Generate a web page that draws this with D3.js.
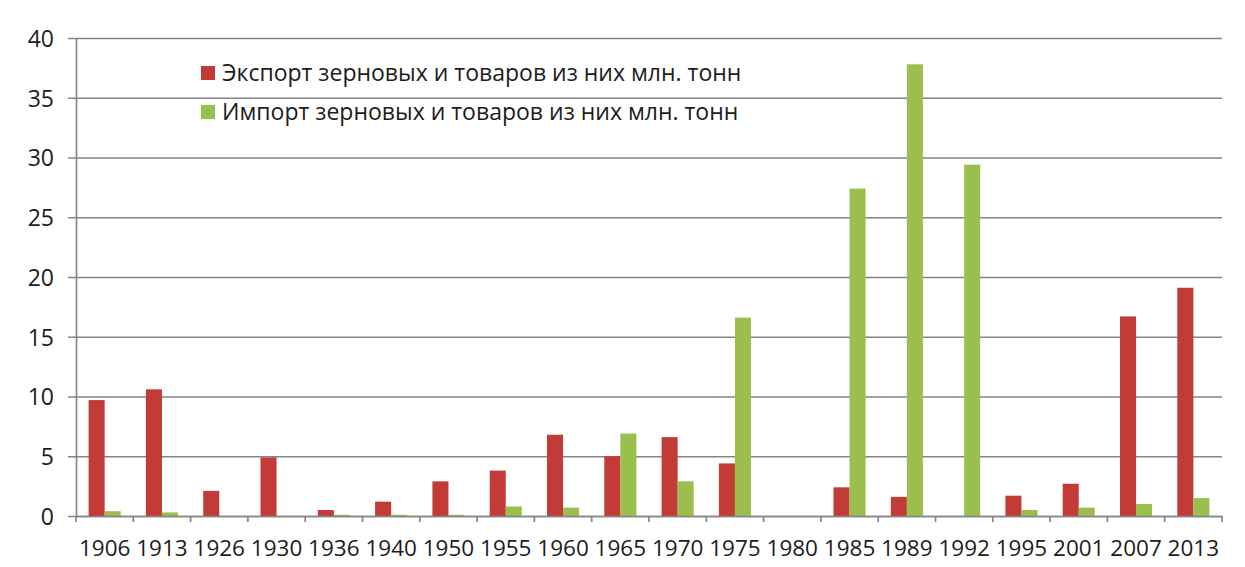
<!DOCTYPE html>
<html>
<head>
<meta charset="utf-8">
<script src="https://cdn.jsdelivr.net/npm/d3@7"></script>
<style>
  html, body { margin: 0; padding: 0; background: #fff; }
  svg text { font-family: "Open Sans", sans-serif; fill: #1c1c1c; }
</style>
</head>
<body>
<div id="chart"></div>
<script>
// data
var years = ["1906", "1913", "1926", "1930", "1936", "1940", "1950", "1955", "1960", "1965",
             "1970", "1975", "1980", "1985", "1989", "1992", "1995", "2001", "2007", "2013"];
var exportVals = [9.7, 10.6, 2.1, 4.9, 0.5, 1.2, 2.9, 3.8, 6.8, 5.0,
                  6.6, 4.4, 0, 2.4, 1.6, 0, 1.7, 2.7, 16.7, 19.1];
var importVals = [0.4, 0.3, 0, 0, 0.1, 0.1, 0.1, 0.8, 0.7, 6.9,
                  2.9, 16.6, 0, 27.4, 37.8, 29.4, 0.5, 0.7, 1.0, 1.5];
var seriesNames = ["Экспорт зерновых и товаров из них млн. тонн",
                   "Импорт зерновых и товаров из них млн. тонн"];
var seriesKeys = ["export", "import"];
var seriesColors = ["#c23b36", "#9bbf4f"];
var yTicks = [0, 5, 10, 15, 20, 25, 30, 35, 40];

var width = 1245,
    height = 567,
    plotLeft = 76, plotRight = 1222, plotTop = 38, plotBottom = 516;

var data = years.map(function(y, i) {
  return { year: y, "export": exportVals[i], "import": importVals[i] };
});

var svg = d3.select("#chart").append("svg")
  .attr("width", width)
  .attr("height", height);

var x = d3.scaleBand()
  .domain(years)
  .range([plotLeft, plotRight])
  .paddingInner(0.44)
  .paddingOuter(0.22);

var x1 = d3.scaleBand()
  .domain(seriesKeys)
  .range([0, x.bandwidth()]);

var y = d3.scaleLinear()
  .domain([0, 40])
  .range([plotBottom, plotTop]);

var color = d3.scaleOrdinal().domain(seriesKeys).range(seriesColors);

// gridlines + y axis (Excel style: tick sticks out left of the axis)
var yAxis = svg.append("g")
  .attr("transform", "translate(" + plotLeft + ",0)")
  .call(d3.axisLeft(y).tickValues(yTicks).tickSizeInner(-(plotRight - plotLeft)).tickSizeOuter(0).tickPadding(22));
yAxis.selectAll(".tick line")
  .attr("x1", -8)
  .attr("stroke", "#858585")
  .attr("stroke-width", 1.7);
yAxis.select(".domain").attr("stroke", "#858585").attr("stroke-width", 1.7);
yAxis.selectAll("text")
  .style("font-size", "23px")
  .attr("dy", "0.36em");

// bars
var groups = svg.selectAll(".year")
  .data(data)
  .enter().append("g")
  .attr("class", "year")
  .attr("transform", function(d) { return "translate(" + x(d.year) + ",0)"; });

groups.selectAll("rect")
  .data(function(d) { return seriesKeys.map(function(k) { return { key: k, value: d[k] }; }); })
  .enter().append("rect")
  .attr("x", function(d) { return x1(d.key); })
  .attr("y", function(d) { return y(d.value); })
  .attr("width", x1.bandwidth())
  .attr("height", function(d) { return y(0) - y(d.value); })
  .attr("fill", function(d) { return color(d.key); });

// x axis: labels at the middle, tick marks between categories
var xAxis = svg.append("g")
  .attr("transform", "translate(0," + plotBottom + ")")
  .call(d3.axisBottom(x).tickSize(0).tickPadding(24));
xAxis.select(".domain").attr("stroke", "#858585").attr("stroke-width", 1.7);
xAxis.selectAll("text").style("font-size", "22.5px");

var edges = years.map(function(yr) { return x(yr) - x.step() * x.paddingOuter(); });
edges.push(plotRight);
svg.append("g").selectAll("line")
  .data(edges)
  .enter().append("line")
  .attr("x1", function(d) { return d; })
  .attr("x2", function(d) { return d; })
  .attr("y1", plotBottom)
  .attr("y2", plotBottom + 6)
  .attr("stroke", "#858585")
  .attr("stroke-width", 1.7);

// legend
var legend = svg.append("g")
  .attr("transform", "translate(201,73)");

var item = legend.selectAll(".item")
  .data(seriesKeys)
  .enter().append("g")
  .attr("class", "item")
  .attr("transform", function(d, i) { return "translate(0," + (i * 39) + ")"; });

item.append("rect")
  .attr("x", 0)
  .attr("y", -7)
  .attr("width", 14)
  .attr("height", 14)
  .attr("fill", function(d) { return color(d); });

item.append("text")
  .attr("x", 21)
  .attr("dy", "0.36em")
  .style("font-size", "23px")
  .text(function(d, i) { return seriesNames[i]; });
</script>
</body>
</html>
